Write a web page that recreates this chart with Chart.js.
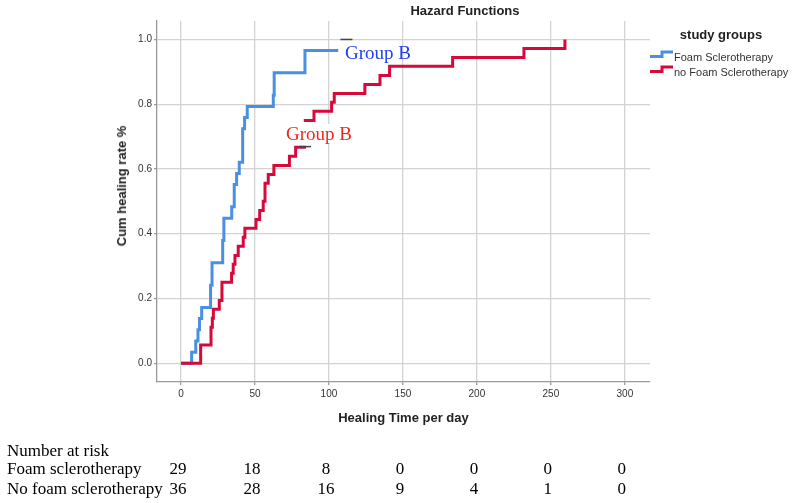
<!DOCTYPE html>
<html>
<head>
<meta charset="utf-8">
<script src="https://cdn.jsdelivr.net/npm/chart.js@4.4.1/dist/chart.umd.min.js"></script>
<style>
    html, body { margin: 0; padding: 0; background: #fff; }
    #wrap { position: relative; width: 796px; height: 503px; overflow: hidden; }
    #hazardChart { position: absolute; left: 0; top: 0; }
    .lbl { position: absolute; white-space: nowrap; }
    .sans { font-family: "Liberation Sans", Arial, sans-serif; color: #222; }
    .serif { font-family: "Liberation Serif", "Times New Roman", serif; color: #000; }
    .bold { font-weight: bold; font-size: 13px; line-height: 16px; }
    .legItem { font-size: 11px; line-height: 14px; color: #333; }
    .group { font-size: 19px; line-height: 19px; }
    .risk { font-size: 17px; line-height: 19px; }
    .num { transform: translateX(-50%); }
</style>
</head>
<body>
<div id="wrap">
    <canvas id="hazardChart" width="796" height="503" style="width:796px;height:503px"></canvas>

    <div class="lbl sans bold" style="left:465px;top:3px;transform:translateX(-50%)">Hazard Functions</div>
    <div class="lbl sans bold" style="left:122px;top:186px;transform:translate(-50%,-50%) rotate(-90deg)">Cum healing rate %</div>

    <!-- 图例 -->
    <div class="lbl sans bold" style="left:721px;top:27px;transform:translateX(-50%)">study groups</div>
    <svg class="lbl" style="left:650px;top:50px" width="24" height="9"><path d="M0 6.5 H12 V2 H23" fill="none" stroke="#4a90e2" stroke-width="3"/></svg>
    <div class="lbl sans legItem" style="left:674px;top:50px">Foam Sclerotherapy</div>
    <svg class="lbl" style="left:650px;top:65px" width="24" height="9"><path d="M0 6.5 H12 V2 H23" fill="none" stroke="#d50a3a" stroke-width="3"/></svg>
    <div class="lbl sans legItem" style="left:674px;top:65px">no Foam Sclerotherapy</div>

    <!-- 手动标注 -->
    <div class="lbl serif group" style="left:345px;top:43px;color:#2340f0">Group B</div>
    <div class="lbl serif group" style="left:286px;top:124px;color:#ee2a1e;background:#fff">Group B</div>

    <!-- 风险人数表 -->
    <div class="lbl serif risk" style="left:7px;top:441px">Number at risk</div>
    <div class="lbl serif risk" style="left:7px;top:459px">Foam sclerotherapy</div>
    <div class="lbl serif risk" style="left:7px;top:479px">No foam sclerotherapy</div>
    <div id="riskCells"></div>
</div>

<script>
// 时间轴刻度 & 风险人数
const xTicks = [0, 50, 100, 150, 200, 250, 300];
const yTicks = [0, 0.2, 0.4, 0.6, 0.8, 1.0];
const riskFoam = [29, 18, 8, 0, 0, 0, 0];
const riskNoFoam = [36, 28, 16, 9, 4, 1, 0];

// Foam Sclerotherapy 累计愈合率 (阶梯)
const blueDays = [0, 7.2, 10, 11.5, 12.5, 14, 20, 21, 28.2, 29, 34.3, 36, 37.6, 39.4, 41.7, 43, 44.8, 62.4, 63, 83.8, 106.3];
const blueRate = [0, 0.034, 0.069, 0.103, 0.138, 0.172, 0.241, 0.310, 0.379, 0.448, 0.483, 0.552, 0.586, 0.621, 0.724, 0.759, 0.793, 0.828, 0.897, 0.966, 0.966];

// no Foam Sclerotherapy 累计愈合率 (null 处断开)
const redDays = [0, 13.3, 20.3, 21.2, 21.9, 25.9, 27.7, 34.2, 35.3, 36.5, 38.7, 42.1, 43.2, 50.7, 53.2, 55.6, 56.8, 59, 62.8, 73.3, 77.5, 84.5,
                 84.5, 83, 89.9, 101.8, 103.6, 124.3, 134.5, 141, 183.6, 231.8, 259.5];
const redRate = [0, 0.056, 0.111, 0.139, 0.167, 0.194, 0.25, 0.278, 0.306, 0.333, 0.361, 0.389, 0.417, 0.444, 0.472, 0.5, 0.556, 0.583, 0.611, 0.639, 0.667, 0.667,
                 null, 0.75, 0.778, 0.806, 0.833, 0.861, 0.889, 0.917, 0.944, 0.972, 1.0];

// 删失标记
const censorDays = [111.8, 83.8];
const censorRate = [1.0, 0.669];

function toPoints(xs, ys) {
    return xs.map((x, i) => ({ x: x, y: ys[i] }));
}

const axisFont = { family: "'Liberation Sans', Arial, sans-serif", size: 10 };
const titleFont = { family: "'Liberation Sans', Arial, sans-serif", size: 13, weight: 'bold' };

const ctx = document.getElementById('hazardChart').getContext('2d');
const hazardChart = new Chart(ctx, {
    type: 'line',
    data: {
        datasets: [{
            label: 'censored',
            type: 'scatter',
            data: toPoints(censorDays, censorRate),
            pointStyle: 'line',
            pointRadius: 6,
            borderColor: '#444',
            borderWidth: 1.5,
            order: 0
        }, {
            label: 'no Foam Sclerotherapy',
            data: toPoints(redDays, redRate),
            borderColor: '#d50a3a',
            borderWidth: 3,
            stepped: 'before',
            pointRadius: 0,
            fill: false,
            order: 1
        }, {
            label: 'Foam Sclerotherapy',
            data: toPoints(blueDays, blueRate),
            borderColor: '#4a90e2',
            borderWidth: 3,
            stepped: 'before',
            pointRadius: 0,
            fill: false,
            order: 2
        }]
    },
    options: {
        responsive: false,
        animation: false,
        layout: { padding: { left: 0, top: 21, right: 146, bottom: 71 } },
        plugins: {
            legend: { display: false },
            tooltip: { enabled: false },
            title: { display: false }
        },
        scales: {
            x: {
                type: 'linear',
                min: -16.2,
                max: 317,
                afterBuildTicks: s => { s.ticks = xTicks.map(v => ({ value: v })); },
                afterFit: s => { s.height = 50; },
                ticks: { font: axisFont, color: '#333', padding: 3, maxRotation: 0 },
                grid: { color: '#d3d3d3', lineWidth: 1.3, tickLength: 3, tickColor: '#999' },
                border: { color: '#999', width: 1.3 },
                title: { display: true, text: 'Healing Time per day', font: titleFont, color: '#222', padding: { top: 0, bottom: 6 } }
            },
            y: {
                type: 'linear',
                min: -0.058,
                max: 1.057,
                afterBuildTicks: s => { s.ticks = yTicks.map(v => ({ value: v })); },
                afterFit: s => { s.width = 157; },
                ticks: { font: axisFont, color: '#333', padding: 2, callback: v => v.toFixed(1) },
                grid: { color: '#d3d3d3', lineWidth: 1.3, tickLength: 3, tickColor: '#999' },
                border: { color: '#999', width: 1.3 }
            }
        }
    }
});

// 按横轴刻度位置放置风险人数
const cells = document.getElementById('riskCells');
const xScale = hazardChart.scales.x;
xTicks.forEach((t, i) => {
    const px = xScale.getPixelForValue(t) - 3;
    [[riskFoam, 459], [riskNoFoam, 479]].forEach(([row, top]) => {
        const d = document.createElement('div');
        d.className = 'lbl serif risk num';
        d.style.left = px + 'px';
        d.style.top = top + 'px';
        d.textContent = row[i];
        cells.appendChild(d);
    });
});
</script>
</body>
</html>
